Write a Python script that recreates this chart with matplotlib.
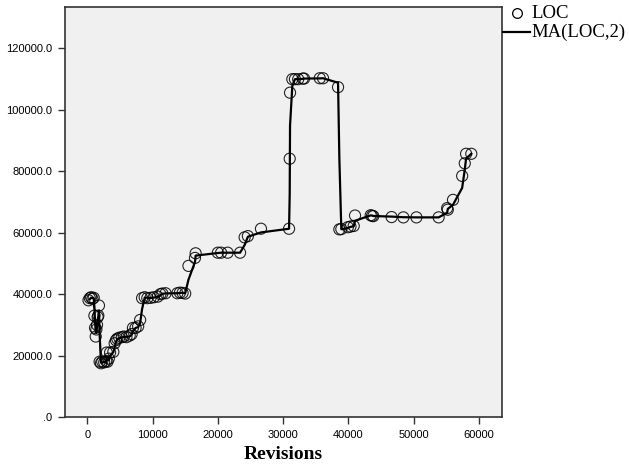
import matplotlib
matplotlib.use("Agg")
import matplotlib.pyplot as plt
from matplotlib.ticker import FuncFormatter
from matplotlib.lines import Line2D
import pandas as pd

revisions = [200, 400, 600, 800, 1000, 1100, 1200, 1300, 1400, 1500, 1600, 1700, 1800,
             1900, 2100, 2300, 2600, 2900, 3000, 3100, 3300, 3500, 4000, 4200, 4400, 4600,
             4900, 5300, 5600, 6000, 6500, 6800, 7000, 7400, 7800, 8100, 8400, 8800, 9200,
             9700, 10200, 10800, 11200, 11500, 12000, 13800, 14200, 14600, 15000, 15500,
             16500, 16600, 20000, 20500, 21500, 23400, 24100, 24600, 26600, 30900, 31000,
             31050, 31400, 31800, 32300, 33000, 33200, 35600, 36100, 38400, 38600, 38900,
             39900, 40300, 40800, 41000, 43400, 43600, 43800, 46600, 48400, 50400, 53800,
             55100, 55200, 56000, 57400, 57800, 58000, 58800]
loc = [38000, 38700, 39000, 38500, 38800, 33000, 29000, 26200, 28500, 30000, 32500, 33000,
       36300, 18000, 17500, 18000, 17800, 18200, 21000, 18000, 19000, 21000, 21200, 24000,
       25000, 25500, 25800, 26000, 26200, 26000, 26500, 27000, 29000, 29000, 29500, 31600,
       38700, 39000, 38700, 38800, 39000, 39200, 40000, 40200, 40300, 40300, 40500, 40400,
       40200, 49200, 51800, 53300, 53500, 53500, 53500, 53500, 58500, 58900, 61300, 61300,
       84100, 105600, 110000, 110000, 110000, 110200, 110200, 110300, 110300, 107400, 61100,
       61200, 61800, 62000, 62200, 65600, 65700, 65500, 65400, 65100, 65000, 65000, 65000,
       68000, 67500, 70700, 78500, 82600, 85700, 85700]

xticks = [0, 10000, 20000, 30000, 40000, 50000, 60000]
yticks = [0, 20000, 40000, 60000, 80000, 100000, 120000]

df = pd.DataFrame({"rev": revisions, "loc": loc})
df["ma"] = df["loc"].rolling(2).mean()

fig = plt.figure(figsize=(6.29, 4.70), dpi=100)
ax = fig.add_axes([65/629, 53/470, 437/629, 410/470])
ax.set_facecolor("#f0f0f0")

ax.plot(df["rev"], df["ma"], color="black", lw=1.6, zorder=2)
ax.scatter(df["rev"], df["loc"], s=64, facecolors="none", edgecolors="black",
           linewidths=0.8, alpha=0.85, zorder=3)

ax.set_xlim(-3400, 63500)
ax.set_ylim(0, 133500)
ax.set_xticks(xticks)
ax.set_yticks(yticks)
ax.yaxis.set_major_formatter(FuncFormatter(lambda v, p: ".0" if v == 0 else f"{v:.1f}"))
ax.xaxis.set_major_formatter(FuncFormatter(lambda v, p: f"{int(v)}"))
for lab in ax.get_xticklabels() + ax.get_yticklabels():
    lab.set_family("Liberation Sans")
ax.tick_params(axis="both", labelsize=8, length=5, width=1, color="#333333", pad=4)
for sp in ax.spines.values():
    sp.set_color("#333333")
    sp.set_linewidth(1.2)

ax.set_xlabel("Revisions", family="Liberation Serif", fontweight="bold", fontsize=14, labelpad=5)

# legend
fig.add_artist(Line2D([517/629], [1 - 13/470], marker="o", markersize=7, markerfacecolor="none",
                      markeredgecolor="black", markeredgewidth=0.9, linestyle="none",
                      transform=fig.transFigure))
fig.text(531/629, 1 - 13/470, "LOC", family="Liberation Serif", fontsize=13.5, va="center", ha="left")
fig.add_artist(Line2D([503/629, 530/629], [1 - 32/470, 1 - 32/470], color="black", lw=1.6,
                      transform=fig.transFigure))
fig.text(531/629, 1 - 32/470, "MA(LOC,2)", family="Liberation Serif", fontsize=13.5, va="center", ha="left")

fig.savefig("out.png", dpi=100)
